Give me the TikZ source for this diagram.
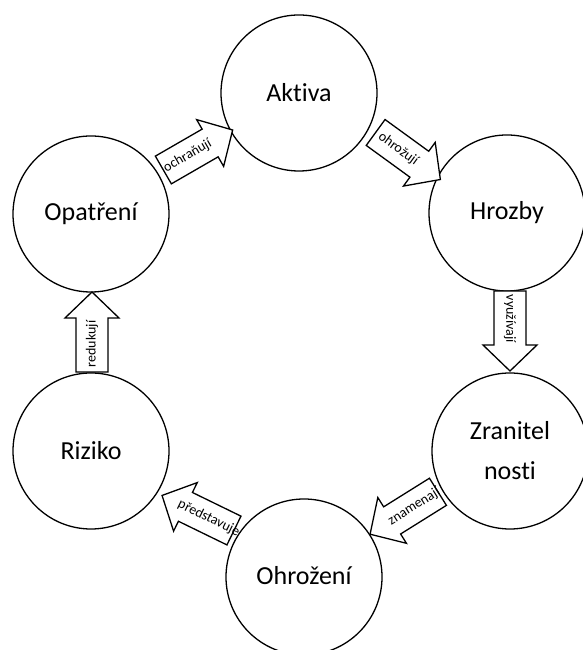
\documentclass[tikz,border=0pt]{standalone}
\usepackage{fontspec}
\setmainfont{Carlito}[Ligatures=NoCommon]
\begin{document}
\begin{tikzpicture}[x=1pt,y=1pt,
  bubble/.style={circle, draw, line width=1.3pt, minimum size=156pt, inner sep=0pt,
    font=\fontsize{26}{40}\selectfont, align=center},
  arr/.style={draw, line width=1.3pt, fill=white, line join=miter},
  small/.style={font=\fontsize{14}{15}\selectfont, inner sep=0pt, transform shape},
  pics/rarrow/.style={code={
    \draw[arr] (-40,-16) -- (14,-16) -- (14,-27) -- (40,0) -- (14,27) -- (14,16) -- (-40,16) -- cycle;
    \node[small] (-t) at (-12,0) {#1};}},
  pics/larrow/.style={code={
    \draw[arr] (40,-16) -- (-14,-16) -- (-14,-27) -- (-40,0) -- (-14,27) -- (-14,16) -- (40,16) -- cycle;
    \node[small] (-t) at (12,0) {#1};}}
]
\useasboundingbox (0,0) rectangle (582,650);
\node[bubble] (aktiva) at (299,557) {Aktiva};
\node[bubble] (hrozby) at (507,437) {Hrozby};
\node[bubble] (zranit) at (510,199) {Zranitel\\nosti};
\node[bubble] (ohroz) at (304,73) {\raisebox{4pt}{Ohrožení}};
\node[bubble] (riziko) at (91,199) {Riziko};
\node[bubble] (opatr) at (91,436) {Opatření};

\pic[rotate=30] (och) at (198,500) {rarrow={ochraňují}};
\pic[rotate=-36] (ohr) at (408,494) {rarrow={ohrožují}};
\pic[rotate=-90] (vyu) at (510,319) {rarrow={využívají}};
\pic[rotate=32] (zna) at (404,137) {larrow={znamenají}};
\pic[rotate=-26] (pre) at (198,137) {larrow={představuje}};
\pic[rotate=90] (red) at (92,318) {rarrow={redukují}};
\end{tikzpicture}
\end{document}
